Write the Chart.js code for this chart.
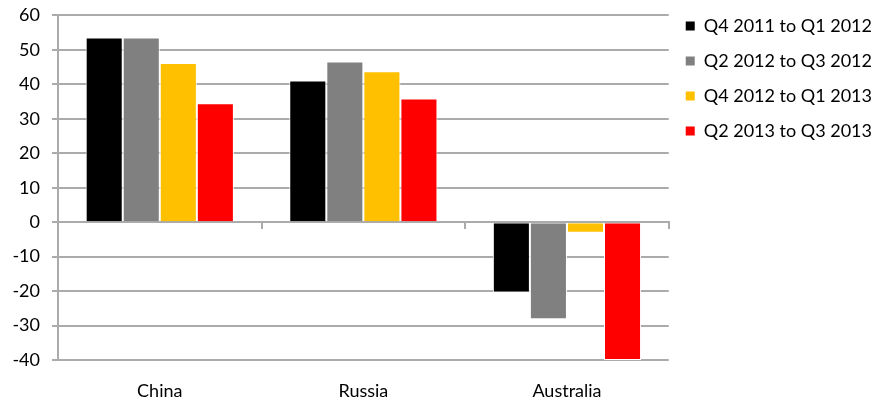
<!DOCTYPE html>
<html>
<head>
<meta charset="utf-8">
<script src="https://cdn.jsdelivr.net/npm/chart.js@4.4.0/dist/chart.umd.min.js"></script>
<style>
  html, body { margin: 0; padding: 0; background: #fff; }
</style>
</head>
<body>
<canvas id="chart" width="887" height="398"></canvas>
<script>
// categories and series
const categories = ['China', 'Russia', 'Australia'];
const seriesNames = ['Q4 2011 to Q1 2012', 'Q2 2012 to Q3 2012', 'Q4 2012 to Q1 2013', 'Q2 2013 to Q3 2013'];
const q4_2011_q1_2012 = [53.6, 41.1, -20.4];
const q2_2012_q3_2012 = [53.6, 46.6, -28.2];
const q4_2012_q1_2013 = [46.2, 43.8, -3.1];
const q2_2013_q3_2013 = [34.5, 35.9, -40];
const seriesColors = ['#000000', '#808080', '#FFC000', '#FF0000'];

const yMin = -40;
const yMax = 60;
const yStep = 10;

const gridColor = '#ababab';
const fontFamily = 'Lato, "Open Sans", sans-serif';

const seriesValues = [q4_2011_q1_2012, q2_2012_q3_2012, q4_2012_q1_2013, q2_2013_q3_2013];

const datasets = seriesNames.map((name, i) => ({
    label: name,
    data: seriesValues[i],
    backgroundColor: seriesColors[i],
    borderColor: '#ffffff',
    borderWidth: 1,
    barPercentage: 1,
    categoryPercentage: 0.728
}));

const ctx = document.getElementById('chart').getContext('2d');
new Chart(ctx, {
    type: 'bar',
    data: {
        labels: categories,
        datasets: datasets
    },
    options: {
        responsive: false,
        animation: false,
        layout: { padding: { right: 5 } },
        plugins: {
            tooltip: { enabled: false },
            legend: {
                position: 'right',
                align: 'start',
                maxWidth: 214,
                labels: {
                    boxWidth: 9,
                    boxHeight: 9,
                    padding: 17,
                    color: '#000',
                    font: { family: fontFamily, size: 18 },
                    generateLabels: function(chart) {
                        const items = Chart.defaults.plugins.legend.labels.generateLabels(chart);
                        items.forEach(item => { item.lineWidth = 0; item.strokeStyle = item.fillStyle; });
                        return items;
                    }
                }
            }
        },
        scales: {
            x: {
                type: 'category',
                position: 'bottom',
                grid: { display: false, drawTicks: false },
                border: { display: false },
                ticks: {
                    color: '#000',
                    padding: 20,
                    font: { family: fontFamily, size: 18 }
                },
                afterFit: function(scale) { scale.height = 38; }
            },
            // category boundary tick marks on the zero line
            xz: {
                type: 'linear',
                position: { y: 0 },
                min: 0,
                max: categories.length,
                offset: false,
                ticks: { display: false, stepSize: 1 },
                grid: { offset: false, drawOnChartArea: false, tickLength: 6, color: gridColor, lineWidth: 2 },
                border: { color: gridColor, width: 2 }
            },
            y: {
                min: yMin,
                max: yMax,
                ticks: {
                    stepSize: yStep,
                    autoSkip: false,
                    color: '#000',
                    padding: 12,
                    font: { family: fontFamily, size: 18, lineHeight: 0.38 }
                },
                grid: { color: gridColor, lineWidth: 2, tickLength: 6 },
                border: { color: gridColor, width: 2 },
                afterFit: function(scale) { scale.width = 58; }
            }
        }
    }
});
</script>
</body>
</html>
